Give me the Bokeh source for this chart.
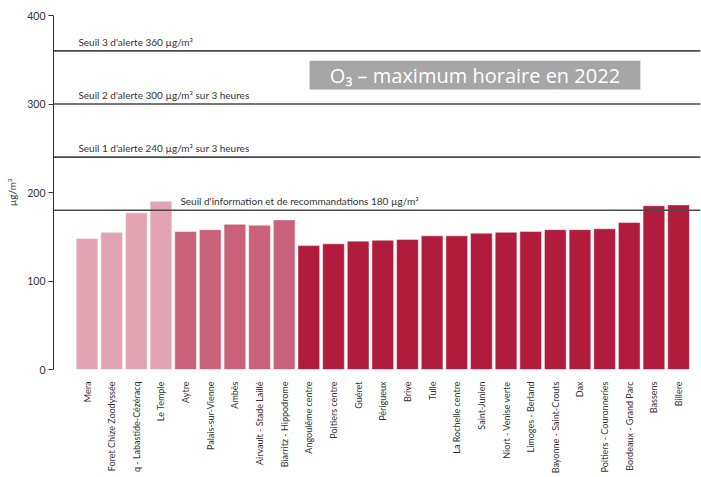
from bokeh.plotting import figure
from bokeh.models import Range1d, FixedTicker, Span, Label, BoxAnnotation, ColumnDataSource
from bokeh.embed import file_html
from bokeh.resources import INLINE
from bokeh.core.properties import value

# ---- data ----
stations = ["Mera", "Foret Chize Zoodyssée", "q - Labastide-Cézéracq", "Le Temple",
            "Aytre", "Palais-sur-Vienne", "Ambès", "Airvault - Stade Laillé", "Biarritz - Hippodrome",
            "Angoulême centre", "Poitiers centre", "Guéret", "Périgueux", "Brive", "Tulle",
            "La Rochelle centre", "Saint-Junien", "Niort - Venise verte", "Limoges - Berland",
            "Bayonne - Saint-Crouts", "Dax", "Poitiers - Couronneries", "Bordeaux - Grand Parc",
            "Bassens", "Billere"]
values = [148, 155, 177, 190,
          156, 158, 164, 163, 169,
          140, 142, 145, 146, 147, 151, 151, 154, 155, 156,
          158, 158, 159, 166, 185, 186]
groups = [0, 0, 0, 0, 1, 1, 1, 1, 1] + [2] * 16

thresholds = [360, 300, 240, 180]
threshold_labels = ["Seuil 3 d'alerte 360 µg/m³",
                    "Seuil 2 d'alerte 300 µg/m³ sur 3 heures",
                    "Seuil 1 d'alerte 240 µg/m³ sur 3 heures",
                    "Seuil d'information et de recommandations 180 µg/m³"]
y_ticks = [0, 100, 200, 300, 400]
title_text = "O₃ – maximum horaire en 2022"

# ---- style ----
palette = ["#E2A4B2", "#C9617A", "#B21C3C"]
FONT = "Lato"
TFONT = "Open Sans"
n = len(stations)
xs = list(range(n))
colors = [palette[g] for g in groups]

p = figure(width=701, height=477, output_backend="svg", toolbar_location=None,
           x_range=Range1d(-1.36, 24.89), y_range=Range1d(0, 400),
           min_border_left=53, min_border_right=1, min_border_top=15, min_border_bottom=108)
p.outline_line_color = None
p.grid.grid_line_color = None
p.background_fill_color = "white"
p.border_fill_color = "white"

src = ColumnDataSource(dict(x=xs, top=values, color=colors))
p.vbar(x="x", top="top", width=0.88, bottom=0, source=src, fill_color="color",
       line_color="white", line_alpha=0.45, line_width=1)

for t in thresholds:
    p.add_layout(Span(location=t, dimension="width", line_color="#4a4a4a", line_width=1.6))

lab_x = [-0.35, -0.35, -0.35, 3.79]
tsrc = ColumnDataSource(dict(x=lab_x, y=thresholds, text=threshold_labels))
p.text(x="x", y="y", text="text", source=tsrc, text_font=value(FONT),
       text_font_size="10px", text_color="#333333", text_baseline="bottom",
       y_offset=-3)

p.add_layout(BoxAnnotation(left=9.03, right=22.45, bottom=316.4, top=349.0,
                           fill_color="#A6A6A6", fill_alpha=1.0, line_color=None))
p.add_layout(Label(x=15.74, y=332.7, text=title_text, text_align="center",
                   text_baseline="middle", text_color="white", text_font=TFONT,
                   text_font_size="20px"))

# y axis
p.yaxis.ticker = FixedTicker(ticks=y_ticks)
p.yaxis.axis_label = "µg/m³"
p.yaxis.axis_label_text_font = FONT
p.yaxis.axis_label_text_font_style = "normal"
p.yaxis.axis_label_text_font_size = "10px"
p.yaxis.axis_label_text_color = "#333333"
p.yaxis.axis_label_standoff = 6
p.yaxis.major_label_text_font = FONT
p.yaxis.major_label_text_font_size = "10.5px"
p.yaxis.major_label_text_color = "#333333"
p.yaxis.major_label_standoff = 3
p.yaxis.axis_line_color = "#333333"
p.yaxis.major_tick_line_color = "#333333"
p.yaxis.major_tick_out = 5
p.yaxis.major_tick_in = 0
p.yaxis.minor_tick_line_color = None

# x axis
p.xaxis.ticker = FixedTicker(ticks=xs)
p.xaxis.major_label_overrides = {i: s for i, s in enumerate(stations)}
p.xaxis.major_label_orientation = 1.5707963
p.xaxis.major_label_text_font = FONT
p.xaxis.major_label_text_font_size = "9px"
p.xaxis.major_label_text_color = "#333333"
p.xaxis.major_label_standoff = 6
p.xaxis.axis_line_color = None
p.xaxis.major_tick_line_color = None
p.xaxis.minor_tick_line_color = None

open("out.html", "w").write(file_html(p, INLINE))
